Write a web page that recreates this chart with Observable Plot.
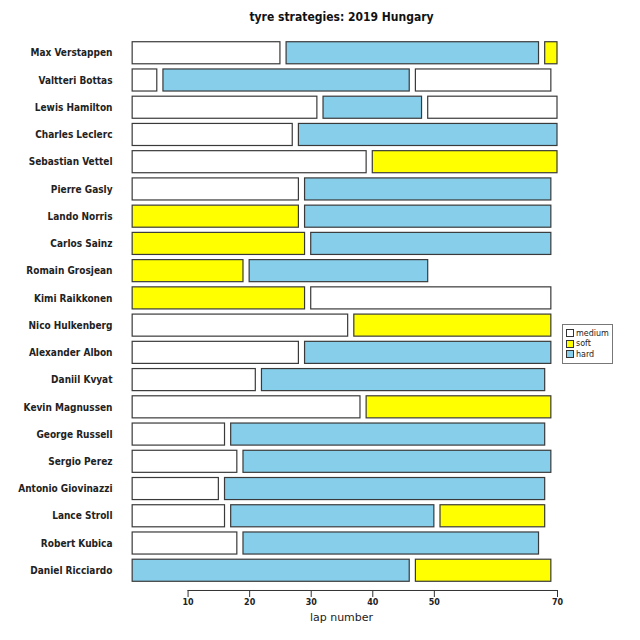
<!DOCTYPE html>
<html>
<head>
<meta charset="utf-8">
<script src="https://cdn.jsdelivr.net/npm/d3@7"></script>
<script src="https://cdn.jsdelivr.net/npm/@observablehq/plot@0.6"></script>
<style>
  html, body { margin: 0; padding: 0; background: #fff; }
  #wrap { position: relative; width: 640px; height: 640px; font-family: "DejaVu Sans", Verdana, sans-serif; }
  #title { position: absolute; left: 126px; width: 431px; top: 10px; text-align: center; font-family: "DejaVu Sans Condensed", "DejaVu Sans", sans-serif; font-weight: bold; font-size: 12px; color: #111; }
  #xlabel { position: absolute; left: 126px; width: 431px; top: 611px; text-align: center; font-size: 11px; color: #222; }
  #legend { position: absolute; left: 562px; top: 324px; width: 51px; height: 40px; border: 1px solid #777; box-sizing: border-box; padding: 3px 0 0 3px; font-size: 8px; color: #222; }
  #legend .row { display: flex; align-items: center; height: 10.5px; }
  #legend .sw { width: 8px; height: 8px; border: 1px solid #333; box-sizing: border-box; margin-right: 2px; }
</style>
</head>
<body>
<div id="wrap">
  <div id="chart"></div>
  <div id="title">tyre strategies: 2019 Hungary</div>
  <div id="xlabel">lap number</div>
  <div id="legend"></div>
</div>
<script>
const drivers = ["Max Verstappen","Valtteri Bottas","Lewis Hamilton","Charles Leclerc","Sebastian Vettel","Pierre Gasly","Lando Norris","Carlos Sainz","Romain Grosjean","Kimi Raikkonen","Nico Hulkenberg","Alexander Albon","Daniil Kvyat","Kevin Magnussen","George Russell","Sergio Perez","Antonio Giovinazzi","Lance Stroll","Robert Kubica","Daniel Ricciardo"];
const stintCompounds = [
  ["medium","hard","soft"],
  ["medium","hard","medium"],
  ["medium","hard","medium"],
  ["medium","hard"],
  ["medium","soft"],
  ["medium","hard"],
  ["soft","hard"],
  ["soft","hard"],
  ["soft","hard"],
  ["soft","medium"],
  ["medium","soft"],
  ["medium","hard"],
  ["medium","hard"],
  ["medium","soft"],
  ["medium","hard"],
  ["medium","hard"],
  ["medium","hard"],
  ["medium","hard","soft"],
  ["medium","hard"],
  ["hard","soft"]
];
const stintEndLaps = [
  [25,67,70],
  [5,46,69],
  [31,48,70],
  [27,70],
  [39,70],
  [28,69],
  [28,69],
  [29,69],
  [19,49],
  [29,69],
  [36,69],
  [28,69],
  [21,68],
  [38,69],
  [16,68],
  [18,69],
  [15,68],
  [16,50,68],
  [18,67],
  [46,69]
];
const compounds = ["medium","soft","hard"];
const compoundColors = ["#ffffff","#ffff00","#87ceeb"];
const xTicks = [10,20,30,40,50,70];

const stints = [];
drivers.forEach((driver, i) => {
  let start = 1;
  stintEndLaps[i].forEach((end, j) => {
    stints.push({driver, compound: stintCompounds[i][j], start, end});
    start = end + 1;
  });
});

const chart = Plot.plot({
  width: 640,
  height: 640,
  marginLeft: 126,
  marginRight: 83,
  marginTop: 39,
  marginBottom: 50,
  style: {fontFamily: "DejaVu Sans, Verdana, sans-serif", fontSize: "10px", color: "#222", background: "#fff"},
  x: {domain: [0, 70]},
  y: {domain: drivers, paddingInner: 0.19, paddingOuter: 0.1, insetBottom: 6, round: false},
  color: {domain: compounds, range: compoundColors},
  marks: [
    Plot.barX(stints, {x1: "start", x2: "end", y: "driver", fill: "compound", stroke: "#3a3a3a", strokeWidth: 1.2}),
    Plot.ruleY([drivers[drivers.length - 1]], {x1: xTicks[0], x2: xTicks[xTicks.length - 1], dy: 19.75, stroke: "#333", strokeWidth: 1}),
    Plot.axisX({ticks: xTicks, tickSize: 7, tickPadding: 2, fontSize: 8, fontWeight: "bold", label: null, stroke: "#333"}),
    Plot.axisY({tickSize: 0, tickPadding: 14, fontSize: 10, fontFamily: "DejaVu Sans Condensed, DejaVu Sans, sans-serif", fontWeight: "bold", label: null})
  ]
});
document.getElementById("chart").appendChild(chart);

const legend = document.getElementById("legend");
compounds.forEach((c, i) => {
  const row = document.createElement("div");
  row.className = "row";
  const sw = document.createElement("div");
  sw.className = "sw";
  sw.style.background = compoundColors[i];
  const t = document.createElement("span");
  t.textContent = c;
  row.appendChild(sw);
  row.appendChild(t);
  legend.appendChild(row);
});
</script>
</body>
</html>
